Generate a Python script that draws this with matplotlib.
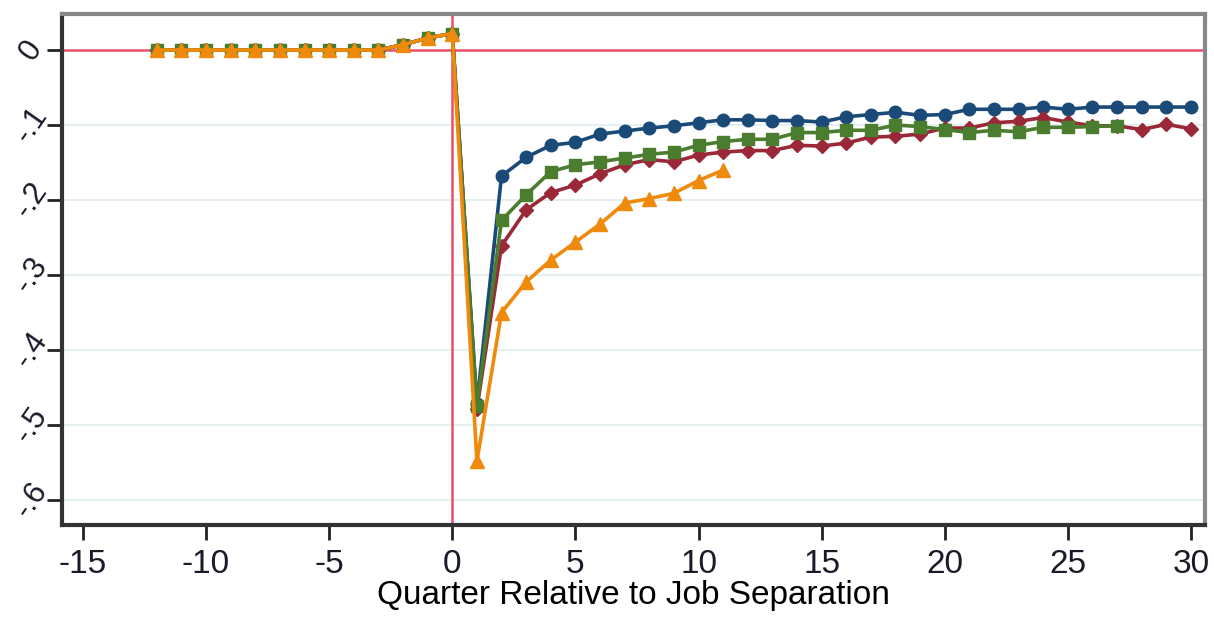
import numpy as np
import matplotlib.pyplot as plt

# quarters relative to separation
pre_q = list(range(-12, 1))
pre_vals = [0.0, 0.0, 0.0, 0.0, 0.0, 0.0, 0.0, 0.0, 0.0, 0.0, 0.007, 0.016, 0.022]

post_q_long = list(range(1, 31))
blue = [-0.472, -0.168, -0.143, -0.127, -0.123, -0.112, -0.108, -0.104, -0.101, -0.097,
        -0.093, -0.093, -0.094, -0.094, -0.096, -0.089, -0.086, -0.083, -0.087, -0.086,
        -0.079, -0.079, -0.079, -0.076, -0.079, -0.076, -0.076, -0.076, -0.076, -0.076]
red = [-0.478, -0.261, -0.213, -0.190, -0.180, -0.165, -0.153, -0.146, -0.149, -0.140,
       -0.136, -0.134, -0.134, -0.127, -0.128, -0.124, -0.116, -0.115, -0.112, -0.104,
       -0.104, -0.097, -0.095, -0.090, -0.096, -0.101, -0.101, -0.106, -0.099, -0.105]
green_q = list(range(1, 28))
green = [-0.475, -0.227, -0.193, -0.162, -0.153, -0.149, -0.144, -0.139, -0.136, -0.127,
         -0.122, -0.119, -0.119, -0.110, -0.110, -0.107, -0.107, -0.100, -0.102, -0.106,
         -0.110, -0.107, -0.109, -0.103, -0.103, -0.102, -0.101]
orange_q = list(range(1, 12))
orange = [-0.548, -0.350, -0.309, -0.280, -0.256, -0.232, -0.204, -0.198, -0.191, -0.174, -0.160]

xticks = [-15, -10, -5, 0, 5, 10, 15, 20, 25, 30]
yticks = [0, -0.1, -0.2, -0.3, -0.4, -0.5, -0.6]
ylabels = ['0', '-.1', '-.2', '-.3', '-.4', '-.5', '-.6']

plt.rcParams['font.family'] = ['Liberation Sans', 'DejaVu Sans']
plt.rcParams['axes.unicode_minus'] = False

fig = plt.figure(figsize=(12.14, 6.19), dpi=100)
ax = fig.add_axes([62/1214, 1-525/619, (1205-62)/1214, (525-14)/619])

for y in yticks[1:]:
    ax.axhline(y, color='#e6eff1', lw=1.5, zorder=0)
ax.axhline(0, color='#e8506a', lw=1.8, zorder=1)
ax.axvline(0, color='#e8506a', lw=1.8, zorder=1)

series = [
    (post_q_long, blue, '#1a4a78', 'o', 9),
    (post_q_long, red, '#9b2838', 'D', 7.5),
    (green_q, green, '#4b7d2e', 's', 8.5),
    (orange_q, orange, '#f08a0c', '^', 10),
]
for q, vals, col, mk, ms in series:
    ax.plot(pre_q + q, pre_vals + vals, color=col, marker=mk, ms=ms, lw=2.6, zorder=3)

ax.set_xlim(-15.85, 30.57)
ax.set_ylim(-0.633, 0.048)
ax.set_xticks(xticks)
ax.set_yticks(yticks)
ax.set_yticklabels(ylabels, rotation=55, va='center', ha='center', fontsize=22)
ax.tick_params(axis='both', direction='out', length=11, width=2,
               color='#222222', labelcolor='#1a1a2a')
ax.tick_params(axis='x', labelsize=24, pad=6)
ax.tick_params(axis='y', pad=11)
ax.set_xlabel('Quarter Relative to Job Separation', fontsize=24, labelpad=0)

for s in ax.spines.values():
    s.set_linewidth(3)
    s.set_color('#333333')
ax.spines['top'].set_color('#888888')
ax.spines['right'].set_color('#888888')

fig.savefig('out.png', dpi=100)
